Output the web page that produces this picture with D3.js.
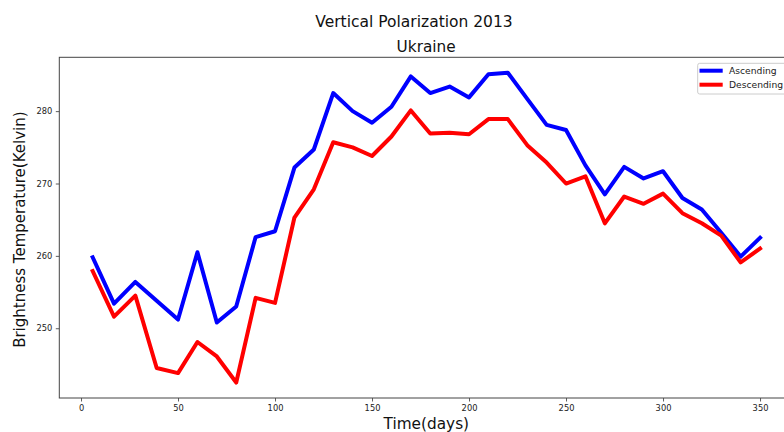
<!DOCTYPE html>
<html>
<head>
<meta charset="utf-8">
<script src="https://cdn.jsdelivr.net/npm/d3@7"></script>
<style>
  html, body { margin: 0; padding: 0; background: #fff; }
  svg { display: block; font-family: "DejaVu Sans", sans-serif; }
</style>
</head>
<body>
<svg id="chart" width="784" height="432"></svg>
<script>
// Day of year for each overpass composite
const days = [6, 17, 28, 39, 50, 60, 70, 80, 90, 100, 110, 120, 130, 140, 150, 160, 170, 180,
  190, 200, 210, 220, 230, 240, 250, 260, 270, 280, 290, 300, 310, 320, 330, 340, 350];

// Brightness temperature (K), ascending passes
const ascending = [259.8, 253.4, 256.4, 253.8, 251.2, 260.5, 250.8, 253.0, 262.6, 263.4, 272.2,
  274.7, 282.5, 280.0, 278.4, 280.6, 284.8, 282.5, 283.4, 281.9, 285.1, 285.3, 281.7, 278.1,
  277.4, 272.5, 268.5, 272.3, 270.7, 271.7, 268.0, 266.4, 263.2, 259.9, 262.5];

// Brightness temperature (K), descending passes
const descending = [257.9, 251.6, 254.5, 244.5, 243.8, 248.1, 246.1, 242.5, 254.2, 253.5, 265.3,
  269.2, 275.7, 275.0, 273.8, 276.5, 280.1, 276.9, 277.0, 276.8, 278.9, 278.9, 275.3, 272.9,
  270.0, 271.0, 264.5, 268.2, 267.2, 268.6, 265.9, 264.5, 262.8, 259.1, 261.0];

const xTicks = [0, 50, 100, 150, 200, 250, 300, 350];
const yTicks = [250, 260, 270, 280];

const series = [
  { name: "Ascending", values: ascending, color: "#0000ff" },
  { name: "Descending", values: descending, color: "#ff0000" }
];

const svg = d3.select("#chart");
const plot = { left: 59.3, right: 793.4, top: 57.3, bottom: 398 };

// Pad the data extent by 5% on each side
function padded(ext) {
  const m = (ext[1] - ext[0]) * 0.05;
  return [ext[0] - m, ext[1] + m];
}

const x = d3.scaleLinear()
  .domain(padded(d3.extent(days)))
  .range([plot.left, plot.right]);

const allVals = ascending.concat(descending);
const y = d3.scaleLinear()
  .domain(padded(d3.extent(allVals)))
  .range([plot.bottom, plot.top]);

const defs = svg.append("defs");
defs.append("clipPath").attr("id", "plotclip")
  .append("rect")
  .attr("x", plot.left).attr("y", plot.top)
  .attr("width", plot.right - plot.left).attr("height", plot.bottom - plot.top);

// Axes
const xAxis = svg.append("g")
  .attr("transform", `translate(0,${plot.bottom})`)
  .call(d3.axisBottom(x).tickValues(xTicks).tickSize(3.5).tickPadding(3.5).tickSizeOuter(0));
const yAxis = svg.append("g")
  .attr("transform", `translate(${plot.left},0)`)
  .call(d3.axisLeft(y).tickValues(yTicks).tickSize(3.5).tickPadding(3.5).tickSizeOuter(0));

[xAxis, yAxis].forEach(g => {
  g.select(".domain").remove();
  g.selectAll(".tick line").attr("stroke", "#333").attr("stroke-width", 0.8);
  g.selectAll(".tick text")
    .attr("fill", "#222")
    .style("font-family", "'DejaVu Sans', sans-serif")
    .style("font-size", "8.3px");
});

// Spines
svg.append("rect")
  .attr("x", plot.left).attr("y", plot.top)
  .attr("width", plot.right - plot.left).attr("height", plot.bottom - plot.top)
  .attr("fill", "none").attr("stroke", "#444").attr("stroke-width", 1);

// Lines
const line = d3.line()
  .x((d, i) => x(days[i]))
  .y(d => y(d));

svg.append("g").attr("clip-path", "url(#plotclip)")
  .selectAll("path")
  .data(series)
  .join("path")
  .attr("d", d => line(d.values))
  .attr("fill", "none")
  .attr("stroke", d => d.color)
  .attr("stroke-width", 4)
  .attr("stroke-linejoin", "round")
  .attr("stroke-linecap", "square");

// Titles
svg.append("text")
  .attr("x", 414).attr("y", 26.7)
  .attr("text-anchor", "middle")
  .attr("fill", "#111")
  .style("font-size", "15.5px")
  .text("Vertical Polarization 2013");

svg.append("text")
  .attr("x", (plot.left + plot.right) / 2 - 0.2).attr("y", 51.7)
  .attr("text-anchor", "middle")
  .attr("fill", "#111")
  .style("font-size", "15.3px")
  .text("Ukraine");

// Axis labels
svg.append("text")
  .attr("x", (plot.left + plot.right) / 2).attr("y", 429.3)
  .attr("text-anchor", "middle")
  .attr("fill", "#111")
  .style("font-size", "15.3px")
  .text("Time(days)");

svg.append("text")
  .attr("transform", `translate(24.5,${(plot.top + plot.bottom) / 2 + 2}) rotate(-90)`)
  .attr("text-anchor", "middle")
  .attr("fill", "#111")
  .style("font-size", "15px")
  .text("Brightness Temperature(Kelvin)");

// Legend
const legend = svg.append("g").attr("transform", "translate(697.7,63.3)");
legend.append("rect")
  .attr("x", 0).attr("y", 0)
  .attr("width", 90).attr("height", 30.7)
  .attr("rx", 2)
  .attr("fill", "#fff").attr("fill-opacity", 0.8)
  .attr("stroke", "#ccc").attr("stroke-width", 1);

const item = legend.selectAll("g.item")
  .data(series)
  .join("g")
  .attr("class", "item")
  .attr("transform", (d, i) => `translate(0,${7.4 + i * 14})`);
item.append("line")
  .attr("x1", 1.8).attr("x2", 25)
  .attr("y1", 0).attr("y2", 0)
  .attr("stroke", d => d.color)
  .attr("stroke-width", 4);
item.append("text")
  .attr("x", 31.3).attr("y", 3.4)
  .attr("fill", "#222")
  .style("font-size", "9.2px")
  .text(d => d.name);
</script>
</body>
</html>
